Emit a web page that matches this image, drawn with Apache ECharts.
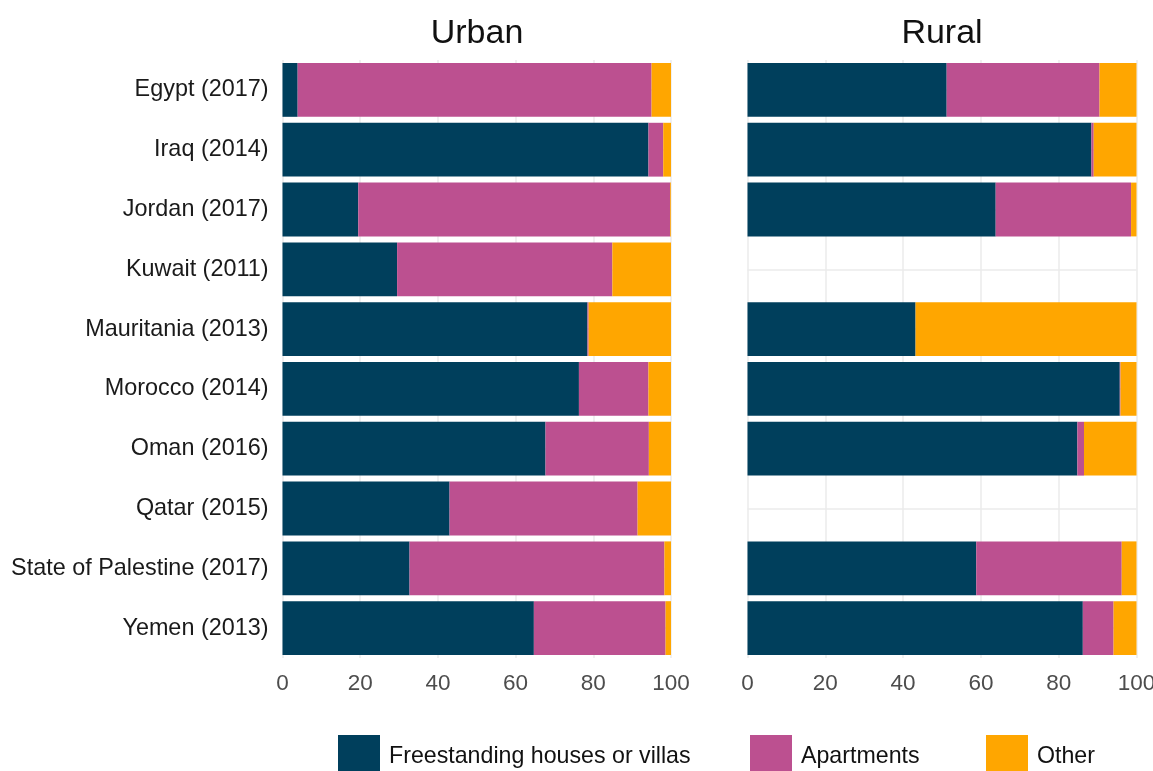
<!DOCTYPE html>
<html>
<head>
<meta charset="utf-8">
<script src="https://cdn.jsdelivr.net/npm/echarts@6/dist/echarts.min.js"></script>
<style>
html,body{margin:0;padding:0;background:#fff;}
#chart{width:1153px;height:771px;}
</style>
</head>
<body>
<div id="chart"></div>
<script>
const countries = ["Egypt (2017)","Iraq (2014)","Jordan (2017)","Kuwait (2011)","Mauritania (2013)","Morocco (2014)","Oman (2016)","Qatar (2015)","State of Palestine (2017)","Yemen (2013)"];
const panels = ["Urban","Rural"];
const seriesNames = ["Freestanding houses or villas","Apartments","Other"];
const xTicks = [0,20,40,60,80,100];

const urbanHouses     = [3.9, 94.2, 19.5, 29.5, 78.5, 76.3, 67.7, 43.0, 32.7, 64.7];
const urbanApartments = [91.1, 3.8, 80.3, 55.4, 0.3, 17.9, 26.6, 48.4, 65.6, 33.9];
const urbanOther      = [5.0, 2.0, 0.2, 15.1, 21.2, 5.8, 5.7, 8.6, 1.7, 1.4];

const ruralHouses     = [51.2, 88.4, 63.8, null, 43.2, 95.7, 84.8, null, 58.8, 86.2];
const ruralApartments = [39.3, 0.6, 34.8, null, 0.0, 0.2, 1.7, null, 37.4, 7.9];
const ruralOther      = [9.5, 11.0, 1.4, null, 56.8, 4.1, 13.5, null, 3.8, 5.9];

const colors = ["#003f5c","#bc5090","#ffa600"];
const panelData = [
  [urbanHouses, urbanApartments, urbanOther],
  [ruralHouses, ruralApartments, ruralOther]
];
const FONT = 'Liberation Sans, Arial, sans-serif';
const legendLefts = [333, 745, 981];

const grids = [
  {left:282.5, top:60, width:388.5, height:598, outerBoundsMode:'none', containLabel:false},
  {left:747.5, top:60, width:389, height:598, outerBoundsMode:'none', containLabel:false}
];

const xAxes = grids.map((g,i)=>({
  type:'value', gridIndex:i, min:0, max:100, interval:20,
  axisLine:{show:false}, axisTick:{show:false},
  splitLine:{show:true, lineStyle:{color:'#ebebeb', width:1.5}},
  axisLabel:{color:'#4d4d4d', fontSize:22.5, fontFamily:FONT, margin:14,
    formatter:v=> xTicks.includes(v) ? String(v) : ''}
}));
const yAxes = grids.map((g,i)=>({
  type:'category', gridIndex:i, data:countries, inverse:true,
  axisLine:{show:false}, axisTick:{show:false},
  splitLine:{show:true, alignWithLabel:true, lineStyle:{color:'#ebebeb', width:1.5}},
  axisLabel:{show:i===0, color:'#1a1a1a', fontSize:23.4, fontFamily:FONT, margin:14}
}));

const series = [];
panelData.forEach((arrs,pi)=>{
  arrs.forEach((arr,si)=>{
    series.push({
      type:'bar', name:seriesNames[si], stack:'p'+pi,
      xAxisIndex:pi, yAxisIndex:pi, data:arr,
      barWidth:'90%', itemStyle:{color:colors[si]}
    });
  });
});

const legends = seriesNames.map((n,i)=>({
  data:[n], left:legendLefts[i], top:730, itemWidth:42, itemHeight:43,
  icon:'rect', selectedMode:false,
  textStyle:{fontSize:23.2, color:'#111', fontFamily:FONT, padding:[0,0,0,4]}
}));

const chart = echarts.init(document.getElementById('chart'));
chart.setOption({
  animation:false,
  backgroundColor:'#fff',
  color:colors,
  title:[
    {text:panels[0], left:472, top:12, textAlign:'center', textStyle:{fontSize:34, fontWeight:'normal', color:'#111', fontFamily:FONT}},
    {text:panels[1], left:937, top:12, textAlign:'center', textStyle:{fontSize:34, fontWeight:'normal', color:'#111', fontFamily:FONT}}
  ],
  legend:legends,
  grid:grids,
  xAxis:xAxes,
  yAxis:yAxes,
  series:series
});
</script>
</body>
</html>
